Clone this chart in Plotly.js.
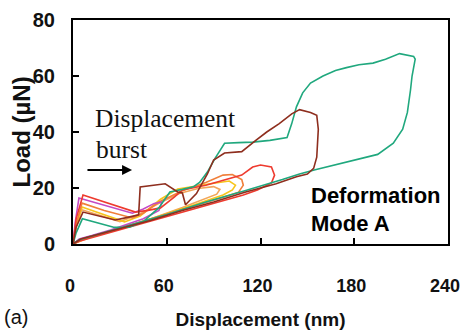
<!DOCTYPE html>
<html><head><meta charset="utf-8">
<script src="https://cdn.plot.ly/plotly-3.0.1.min.js"></script>
<style>html,body{margin:0;padding:0;background:#fff}#chart{width:461px;height:331px}</style>
</head><body><div id="chart"></div>
<script>
// Displacement (nm) / Load (µN) curves
const greenX = [0, 2, 6, 16, 26, 36, 45, 55, 62, 70, 77, 81, 86, 91, 97, 106, 115, 126, 137, 140, 143, 147, 152, 160, 168, 175, 183, 192, 200, 209, 214, 218, 219, 217, 216, 215, 214, 211, 205, 195, 180, 166, 155, 145, 134, 110, 85, 60, 40, 20, 10, 4, 0];
const greenY = [0, 4, 9, 7.5, 6, 6, 8, 13, 18.6, 19.5, 20.4, 22, 25.7, 30.7, 36, 36.2, 36.4, 37, 38, 43, 49, 54, 57.5, 60, 62, 63, 64, 64.6, 66, 68, 67.5, 67, 66, 60, 55, 51, 47, 41, 36, 32, 30, 28, 26.5, 25, 23, 19, 15, 10.5, 7.2, 4, 2.5, 1.5, 0];
const brownX = [0, 2, 6.4, 16, 27, 35, 42, 43, 50, 59, 67, 70, 72, 79, 86, 90, 97, 108, 117, 124, 132, 140, 145, 152, 156, 157, 156, 154, 150, 143, 130, 110, 90, 70, 50, 30, 15, 5, 0];
const brownY = [0, 6, 11.4, 10, 8.6, 9.5, 10.4, 20.4, 20.8, 21.5, 18.6, 18.2, 14, 18, 25, 30, 32.5, 33, 37, 40, 43, 46.5, 48, 47, 46, 41, 31, 27, 25, 24, 21.5, 18.5, 15, 12, 8.5, 5.5, 3.5, 1.8, 0];
const redX = [0, 2, 6.4, 20, 40, 48, 56, 65, 70, 85, 97, 108, 115, 120, 127, 129, 127, 118, 109, 98, 86, 70, 50, 30, 14, 5, 0];
const redY = [0, 9, 17.5, 15, 11.4, 12, 12.9, 16.8, 19.3, 21, 23, 24.6, 27.5, 28.2, 27.5, 24.6, 21.8, 19.3, 17.5, 15.8, 14, 11.5, 8.3, 5.3, 2.8, 1.2, 0];
const magentaX = [0, 1.5, 3.8, 20, 38, 45, 52, 57, 55, 45, 35, 24, 12, 4, 0];
const magentaY = [0, 8, 16.4, 13.8, 11, 12.5, 14.5, 15, 12, 9, 7, 5, 3, 1.8, 0];
const orangeX = [0, 2, 5.8, 20, 38, 45, 55, 70, 85, 96, 102, 108, 109, 106, 95, 80, 60, 40, 20, 8, 0];
const orangeY = [0, 7, 14.6, 12, 9.3, 11, 15, 19, 22, 24.6, 24.8, 23, 21, 18.5, 16.5, 14, 10.5, 7.3, 4, 2.2, 0];
const yellowX = [0, 2, 5.8, 20, 33, 43, 56, 67, 75, 88, 100, 104, 102, 96, 80, 60, 40, 20, 8, 0];
const yellowY = [0, 6.5, 13.2, 10.5, 7.9, 10, 16, 19.6, 20.4, 21.5, 22.5, 21, 19.3, 17.5, 14.5, 10.8, 7.2, 3.8, 2, 0];
const sandX = [0, 2, 5.5, 18, 30, 42, 55, 68, 80, 90, 94, 92, 84, 70, 50, 30, 12, 0];
const sandY = [0, 6, 12.2, 10, 8, 10.5, 14.5, 18, 19.8, 20.5, 19.5, 17.8, 16, 13, 9, 5.6, 2.6, 0];

const curves = [
  {x: sandX, y: sandY, c: '#f2a65a'},
  {x: yellowX, y: yellowY, c: '#f7c51c'},
  {x: orangeX, y: orangeY, c: '#f07f3a'},
  {x: magentaX, y: magentaY, c: '#c44ac4'},
  {x: redX, y: redY, c: '#ee3b2f'},
  {x: greenX, y: greenY, c: '#20a87e'},
  {x: brownX, y: brownY, c: '#8e2e1e'}
];
const data = curves.map(k => ({x: k.x, y: k.y, type: 'scatter', mode: 'lines',
  line: {color: k.c, width: 1.6}, showlegend: false, hoverinfo: 'skip'}));

const xTicks = [0, 60, 120, 180, 240];
const yTicks = [0, 20, 40, 60, 80];
const boldSans = 'Liberation Sans Narrow, Arial Narrow, Liberation Sans, Arial, sans-serif';

const layout = {
  width: 461, height: 331,
  margin: {l: 73, r: 13, t: 20, b: 87},
  paper_bgcolor: '#fff', plot_bgcolor: '#fff',
  xaxis: {range: [0, 240], tickvals: xTicks, ticktext: xTicks.map(String),
    ticks: 'inside', ticklen: 6, tickwidth: 2, tickcolor: '#000',
    showline: true, linecolor: '#000', linewidth: 2, mirror: true,
    showgrid: false, zeroline: false, tickfont: {family: boldSans, size: 18, color: '#111', weight: 'bold'},
    ticklabelstandoff: 24, ticklabelshift: -3, ticklabeloverflow: 'allow',
    title: {text: 'Displacement (nm)', font: {family: boldSans, size: 19, color: '#111', weight: 'bold'}, standoff: 18}},
  yaxis: {range: [0, 80], tickvals: yTicks, ticktext: yTicks.map(String),
    ticks: 'inside', ticklen: 6, tickwidth: 2, tickcolor: '#000',
    showline: true, linecolor: '#000', linewidth: 2, mirror: true,
    showgrid: false, zeroline: false, tickfont: {family: boldSans, size: 20, color: '#111', weight: 'bold'},
    ticklabelstandoff: 12, ticklabeloverflow: 'allow'},
  annotations: [
    {xref: 'paper', yref: 'paper', x: -0.14, y: 0.5, xanchor: 'center', yanchor: 'middle', showarrow: false,
     textangle: -90, text: 'Load (µN)', font: {family: boldSans, size: 24, color: '#111', weight: 'bold'}},
    {xref: 'x', yref: 'y', x: 13, y: 45, xanchor: 'left', yanchor: 'middle', showarrow: false,
     text: 'Displacement', font: {family: 'Liberation Serif, Times New Roman, serif', size: 25.5, color: '#111'}},
    {xref: 'x', yref: 'y', x: 13.5, y: 33.6, xanchor: 'left', yanchor: 'middle', showarrow: false,
     text: 'burst', font: {family: 'Liberation Serif, Times New Roman, serif', size: 25.5, color: '#111'}},
    {xref: 'x', yref: 'y', x: 37.8, y: 26.4, axref: 'x', ayref: 'y', ax: 8.3, ay: 26.4, text: '',
     showarrow: true, arrowhead: 2, arrowsize: 1, arrowwidth: 2, arrowcolor: '#000'},
    {xref: 'x', yref: 'y', x: 151, y: 17.5, xanchor: 'left', yanchor: 'middle', showarrow: false,
     text: 'Deformation', font: {family: 'Liberation Sans, Arial, sans-serif', size: 22, color: '#000', weight: 'bold'}},
    {xref: 'x', yref: 'y', x: 151, y: 7.5, xanchor: 'left', yanchor: 'middle', showarrow: false,
     text: 'Mode A', font: {family: 'Liberation Sans, Arial, sans-serif', size: 22, color: '#000', weight: 'bold'}},
    {xref: 'paper', yref: 'paper', x: -0.19, y: -0.326, xanchor: 'left', yanchor: 'middle', showarrow: false,
     text: '(a)', font: {family: 'Liberation Sans, Arial, sans-serif', size: 20, color: '#111'}}
  ]
};
Plotly.newPlot('chart', data, layout, {staticPlot: true, displayModeBar: false});
</script></body></html>
